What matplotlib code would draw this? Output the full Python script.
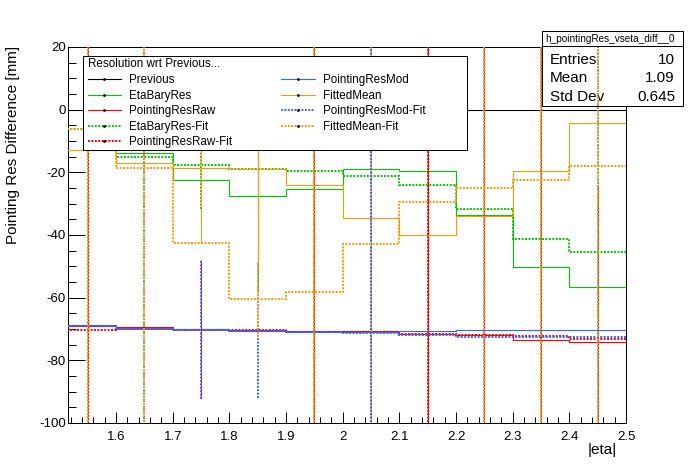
import matplotlib
matplotlib.use('Agg')
import matplotlib.pyplot as plt
from matplotlib.lines import Line2D
from matplotlib.patches import Rectangle
from matplotlib.ticker import MultipleLocator, FuncFormatter

plt.rcParams['font.family'] = ['Liberation Sans', 'DejaVu Sans']
plt.rcParams['axes.unicode_minus'] = False

W, H = 696, 472
BIG = 150  # error bars that run off the frame

edges = [1.5, 1.6, 1.7, 1.8, 1.9, 2.0, 2.1, 2.2, 2.3, 2.4, 2.5]

previous = [0, 0, 0, 0, 0, 0, 0, 0, 0, 0]
eta_bary = [-13.0, -13.7, -22.3, -27.5, -25.2, -18.9, -19.7, -33.5, -50.1, -56.6]
res_raw = [-69.0, -69.5, -70.0, -70.3, -70.6, -70.6, -71.6, -72.0, -73.5, -74.2]
eta_bary_fit = [-6.2, -15.0, -17.8, -19.0, -19.7, -21.2, -24.2, -31.7, -41.3, -45.3]
res_raw_fit = [-70.2, -70.0, -70.2, -70.3, -70.8, -71.1, -71.5, -71.8, -72.2, -73.1]
res_mod = [-68.8, -69.6, -70.1, -70.6, -70.8, -70.9, -70.7, -70.3, -70.3, -70.3]
fitted_mean = [-13.0, -16.9, -18.5, -19.0, -23.9, -34.5, -40.0, -33.9, -19.5, -4.1]
res_mod_fit = [-69.2, -70.0, -70.2, -70.5, -70.9, -71.4, -71.9, -72.4, -72.5, -72.5]
fitted_mean_fit = [-6.2, -18.5, -42.6, -60.5, -58.3, -43.0, -29.5, -25.1, -22.4, -18.0]

err_previous = [0, 0, 0, 0, 0, 0, 0, 0, 0, 0]
err_eta_bary = [0, 0, 0, 30, 0, 0, BIG, 0, 0, 0]
err_res_raw = [BIG, 0, 22, 0, BIG, 0, BIG, BIG, BIG, 50]
err_eta_bary_fit = [0, BIG, 14, 0, BIG, BIG, 0, 0, BIG, BIG]
err_res_raw_fit = [BIG, BIG, 0, 0, BIG, 0, BIG, 0, 0, 0]
err_res_mod = [0, 0, 0, 0, 0, 0, 0, 0, 0, 0]
err_fitted_mean = [0, 0, 24, 30, 0, BIG, 0, 0, 0, 0]
err_res_mod_fit = [0, BIG, 22, 21.5, 0, BIG, 0, BIG, BIG, BIG]
err_fitted_mean_fit = [BIG, BIG, 0, 12, BIG, 0, 0, BIG, BIG, BIG]

labels = ['Previous', 'EtaBaryRes', 'PointingResRaw', 'EtaBaryRes-Fit', 'PointingResRaw-Fit',
          'PointingResMod', 'FittedMean', 'PointingResMod-Fit', 'FittedMean-Fit']

GREEN, RED, BLUE, ORANGE = '#00c800', '#ff0000', '#3366ff', '#ff9900'
DOT = (0, (1.0, 0.75))

series = [
    (previous, err_previous, 'black', '-'),
    (eta_bary, err_eta_bary, GREEN, '-'),
    (res_raw, err_res_raw, RED, '-'),
    (eta_bary_fit, err_eta_bary_fit, GREEN, DOT),
    (res_raw_fit, err_res_raw_fit, RED, DOT),
    (res_mod, err_res_mod, BLUE, '-'),
    (fitted_mean, err_fitted_mean, ORANGE, '-'),
    (res_mod_fit, err_res_mod_fit, BLUE, DOT),
    (fitted_mean_fit, err_fitted_mean_fit, ORANGE, DOT),
]


def fx(px):
    return px / W


def fy(py):
    return 1 - py / H


fig = plt.figure(figsize=(W / 100, H / 100), dpi=100)
ax = fig.add_axes([fx(68), fy(423), (626 - 68) / W, (423 - 47) / H])

centers = [(a + b) / 2 for a, b in zip(edges[:-1], edges[1:])]
handles = []
for i, (vals, errs, col, ls) in enumerate(series):
    lw = 0.8 if ls == '-' else 1.4
    ax.stairs(vals, edges, baseline=None, color=col, lw=lw, linestyle=ls, zorder=3 + i * 0.01)
    eb = ax.errorbar(centers, vals, yerr=errs, fmt='none', ecolor=col, elinewidth=lw,
                     capsize=0, zorder=3 + i * 0.01)
    eb[2][0].set_linestyle(ls)
    handles.append(Line2D([], [], color=col, lw=lw, linestyle=ls, marker='.',
                          markersize=2, markerfacecolor='black', markeredgecolor='black'))

ax.set_xlim(1.515, 2.5)
ax.set_ylim(-100, 20)
ax.xaxis.set_major_locator(MultipleLocator(0.1))
ax.xaxis.set_minor_locator(MultipleLocator(0.02))
ax.yaxis.set_major_locator(MultipleLocator(20))
ax.yaxis.set_minor_locator(MultipleLocator(5))
ax.xaxis.set_major_formatter(FuncFormatter(lambda v, p: f'{v:g}'))
ax.yaxis.set_major_formatter(FuncFormatter(lambda v, p: f'{v:g}'))
ax.tick_params(axis='both', which='both', direction='in', top=False, right=False,
               width=0.72, labelsize=9.5)
ax.tick_params(axis='x', which='major', length=8.1, pad=6)
ax.tick_params(axis='x', which='minor', length=4)
ax.tick_params(axis='y', which='major', length=12, pad=1.5)
ax.tick_params(axis='y', which='minor', length=6)
for sp in ax.spines.values():
    sp.set_linewidth(0.72)

fig.text(fx(13), fy(46), 'Pointing Res Difference [mm]', rotation=90, ha='center', va='top',
         fontsize=11)
fig.text(fx(617), fy(450), '|eta|', ha='right', va='center', fontsize=11)

# legend box
ax.add_patch(Rectangle((fx(83), fy(150)), (467 - 83) / W, (150 - 56) / H,
                       transform=fig.transFigure, facecolor='white', edgecolor='black',
                       lw=0.72, zorder=4.9, clip_on=False))
leg = ax.legend(handles, labels, ncol=2, loc='upper left', bbox_to_anchor=(fx(87.5), fy(58)),
                bbox_transform=fig.transFigure, frameon=False, title='Resolution wrt Previous...',
                alignment='left', fontsize=8.4, title_fontsize=8.4, handlelength=2.9,
                handletextpad=0.66, columnspacing=4.2, labelspacing=0.3, borderpad=0,
                borderaxespad=0, numpoints=1)
leg._legend_box.sep = 3
leg.set_zorder(5)

# stats box
ax.add_patch(Rectangle((fx(542), fy(106)), (683 - 542) / W, (106 - 31) / H,
                       transform=fig.transFigure, facecolor='white', edgecolor='black',
                       lw=0.72, zorder=2.6, clip_on=False))
ax.add_line(Line2D([fx(542), fx(683)], [fy(45.7), fy(45.7)], transform=fig.transFigure,
                   color='black', lw=0.72, zorder=2.65, clip_on=False))
ax.text(fx(610), fy(38.5), 'h_pointingRes_vseta_diff__0', transform=fig.transFigure,
        ha='center', va='center', fontsize=7.2, zorder=2.7)
stats = [('Entries', '10'), ('Mean', '1.09'), ('Std Dev', '0.645')]
for k, (name, val) in enumerate(stats):
    yy = fy(60 + k * 18.5)
    ax.text(fx(550), yy, name, transform=fig.transFigure, ha='left', va='center',
            fontsize=11, zorder=2.7)
    ax.text(fx(675), yy, val, transform=fig.transFigure, ha='right', va='center',
            fontsize=11, zorder=2.7)

fig.savefig('out.png', dpi=100)
